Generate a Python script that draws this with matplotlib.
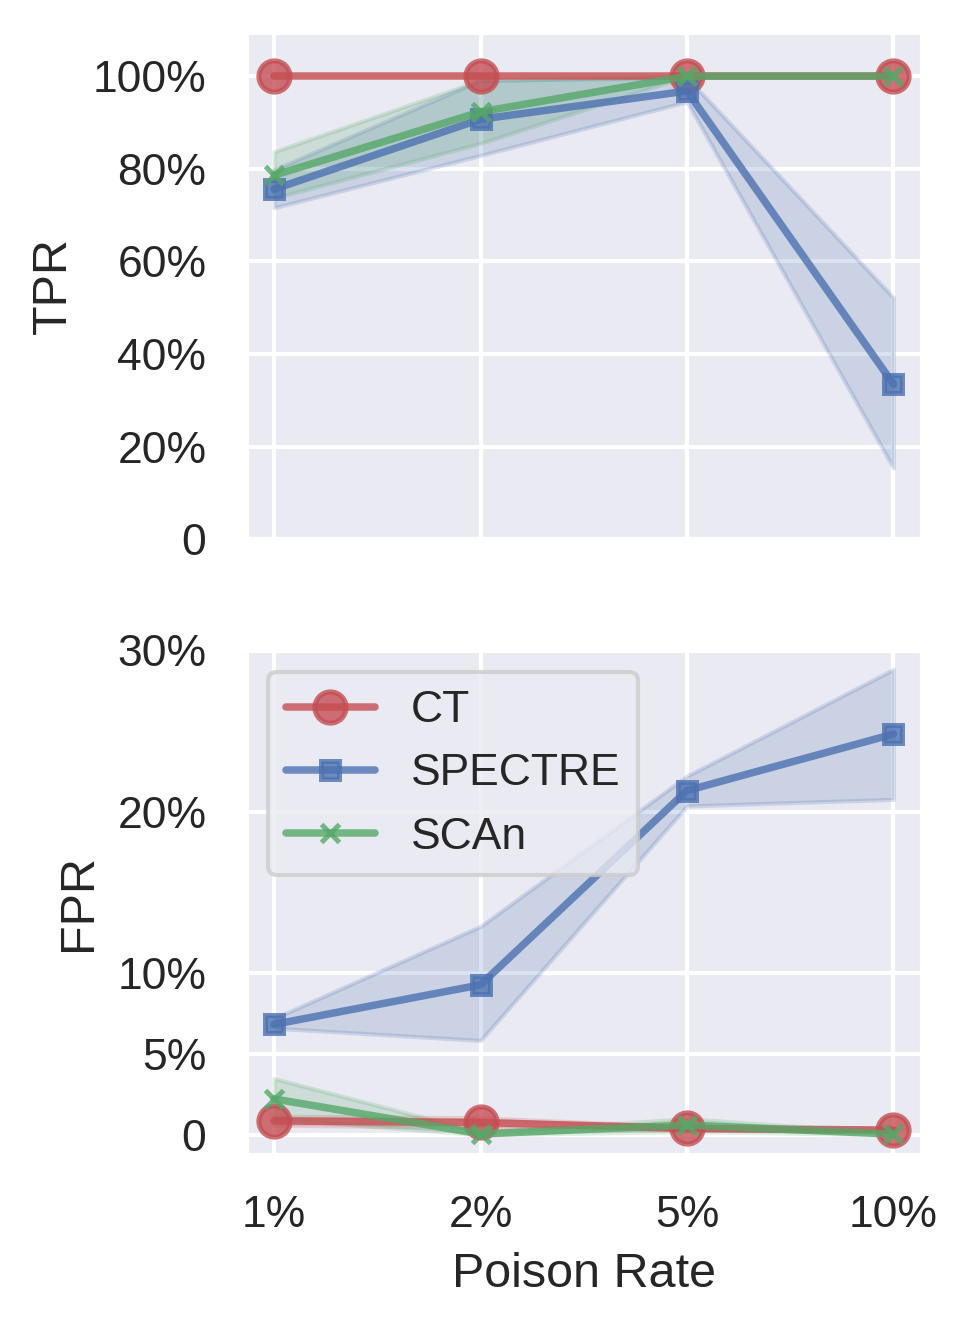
import matplotlib
matplotlib.use('Agg')
import matplotlib.pyplot as plt
import seaborn as sns
from matplotlib.ticker import FuncFormatter

sns.set_theme(style='darkgrid', color_codes=True, font_scale=0.97)
plt.rcParams['font.family'] = ['Liberation Sans', 'DejaVu Sans']

# poison rates (categorical x axis)
rates = ['1%', '2%', '5%', '10%']

# TPR in percent: mean, lower and upper edge of the shaded band
ct_tpr = [100, 100, 100, 100]
ct_tpr_lo = [100, 100, 100, 100]
ct_tpr_hi = [100, 100, 100, 100]
spectre_tpr = [75.6, 90.7, 96.8, 33.5]
spectre_tpr_lo = [71.6, 82.9, 94.5, 15.4]
spectre_tpr_hi = [79.8, 99.1, 99.7, 52.2]
scan_tpr = [78.6, 92.3, 100, 100]
scan_tpr_lo = [73.7, 85.5, 100, 100]
scan_tpr_hi = [83.7, 99.1, 100, 100]

# FPR in percent
ct_fpr = [0.86, 0.76, 0.39, 0.29]
ct_fpr_lo = [0.6, 0.45, 0.3, 0.2]
ct_fpr_hi = [1.15, 1.05, 0.5, 0.38]
spectre_fpr = [6.83, 9.28, 21.3, 24.8]
spectre_fpr_lo = [6.6, 5.84, 20.35, 20.76]
spectre_fpr_hi = [7.2, 12.9, 22.2, 28.8]
scan_fpr = [2.22, 0.05, 0.6, 0.04]
scan_fpr_lo = [1.0, 0.0, 0.2, 0.0]
scan_fpr_hi = [3.48, 0.15, 1.0, 0.1]

tpr_ticks = [0, 20, 40, 60, 80, 100]
fpr_ticks = [0, 5, 10, 20, 30]

x = list(range(len(rates)))

fig = plt.figure(figsize=(968 / 300, 1328 / 300), dpi=300)
ax1 = fig.add_axes([0.2541, 0.5939, 0.9522 - 0.2541, 0.9761 - 0.5939])
ax2 = fig.add_axes([0.2541, 0.1303, 0.9522 - 0.2541, 0.5105 - 0.1303], sharex=ax1)

series = [
    ('CT', 'r', 'o', 7.5, (ct_tpr, ct_tpr_lo, ct_tpr_hi), (ct_fpr, ct_fpr_lo, ct_fpr_hi)),
    ('SPECTRE', 'b', 's', 4.2, (spectre_tpr, spectre_tpr_lo, spectre_tpr_hi),
     (spectre_fpr, spectre_fpr_lo, spectre_fpr_hi)),
    ('SCAn', 'g', 'x', 4.2, (scan_tpr, scan_tpr_lo, scan_tpr_hi), (scan_fpr, scan_fpr_lo, scan_fpr_hi)),
]

for name, color, marker, ms, tpr, fpr in series:
    for ax, (mean, lo, hi) in ((ax1, tpr), (ax2, fpr)):
        ax.plot(x, mean, color=color, marker=marker, markersize=ms, markeredgewidth=1.2,
                linewidth=1.8, alpha=0.8, label=name)
        ax.fill_between(x, lo, hi, color=color, alpha=0.2)


def pct(v, pos):
    return '0' if abs(v) < 1e-9 else f'{v:.0f}%'


ax1.set_ylim(0, 109.6)
ax1.set_yticks(tpr_ticks)
ax1.yaxis.set_major_formatter(FuncFormatter(pct))
ax1.set_ylabel('TPR')
ax1.tick_params(axis='x', labelbottom=False)

ax2.set_ylim(-1.25, 29.9)
ax2.set_yticks(fpr_ticks)
ax2.yaxis.set_major_formatter(FuncFormatter(pct))
ax2.set_ylabel('FPR')
ax2.set_xticks(x)
ax2.set_xticklabels(rates)
ax2.set_xlim(-0.136, 3.137)
ax2.set_xlabel('Poison Rate')

ax2.legend(loc='upper left', frameon=True, facecolor=ax2.get_facecolor(),
           edgecolor='0.8', framealpha=0.8)

fig.savefig('out.png', dpi=300)
